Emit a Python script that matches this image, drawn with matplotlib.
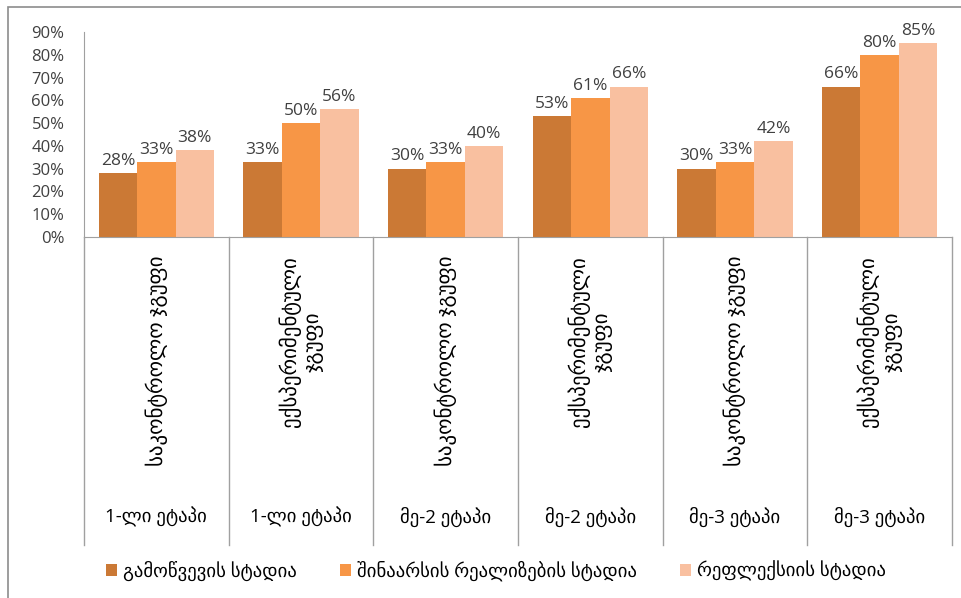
import matplotlib.pyplot as plt
import matplotlib.transforms as mtransforms
from matplotlib.patches import Rectangle
import numpy as np

plt.rcParams['font.family'] = ['Open Sans', 'DejaVu Sans']

# მონაცემები
groups = ["საკონტროლო ჯგუფი", "ექსპერიმენტული\nჯგუფი",
          "საკონტროლო ჯგუფი", "ექსპერიმენტული\nჯგუფი",
          "საკონტროლო ჯგუფი", "ექსპერიმენტული\nჯგუფი"]
stages = ["1-ლი ეტაპი", "1-ლი ეტაპი", "მე-2 ეტაპი", "მე-2 ეტაპი",
          "მე-3 ეტაპი", "მე-3 ეტაპი"]
series_names = ["გამოწვევის სტადია", "შინაარსის რეალიზების სტადია",
                "რეფლექსიის სტადია"]
challenge = [0.28, 0.33, 0.30, 0.53, 0.30, 0.66]
realization = [0.33, 0.50, 0.33, 0.61, 0.33, 0.80]
reflection = [0.38, 0.56, 0.40, 0.66, 0.42, 0.85]
colors = ["#CB7935", "#F79646", "#F9C0A0"]

W, H = 961, 598
fig = plt.figure(figsize=(W / 100, H / 100), dpi=100)
ax = fig.add_axes([84 / W, 1 - 237 / H, (952 - 84) / W, 205 / H])

x = np.arange(len(groups))
bw = 0.266
for i, vals in enumerate([challenge, realization, reflection]):
    bars = ax.bar(x + (i - 1) * bw, vals, width=bw, color=colors[i],
                  label=series_names[i], linewidth=0)
    for b, v in zip(bars, vals):
        ax.annotate(f"{round(v * 100)}%", (b.get_x() + b.get_width() / 2, v),
                    xytext=(0, 3), textcoords="offset points",
                    ha="center", va="bottom", fontsize=12.5, color="#404040")

ax.set_xlim(-0.5, len(groups) - 0.5)
ax.set_ylim(0, 0.9)
ax.set_yticks(np.arange(0, 0.91, 0.1))
ax.set_yticklabels([f"{t}%" for t in range(0, 91, 10)], fontsize=12,
                   color="#404040")
ax.tick_params(axis="y", length=0, pad=14)
ax.set_xticks([])
for s in ["top", "right"]:
    ax.spines[s].set_visible(False)
for s in ["left", "bottom"]:
    ax.spines[s].set_color("#A0A0A0")

# კატეგორიების ზონა
tr = mtransforms.blended_transform_factory(ax.transData, fig.transFigure)
for sep in np.arange(-0.5, len(groups), 1.0):
    ax.plot([sep, sep], [1 - 237 / H, 1 - 545 / H], transform=tr,
            color="#A0A0A0", lw=1, clip_on=False)
for xi, g, st in zip(x, groups, stages):
    ax.text(xi, 1 - 256 / H, g, transform=tr, rotation=90, ha="center",
            va="top", multialignment="center", fontsize=15, color="black",
            linespacing=1.15)
    ax.text(xi, 1 - 517 / H, st, transform=tr, ha="center", va="center",
            fontsize=13.5, color="black")

# ჩარჩო
fig.patches.append(Rectangle((8 / W, -0.05), 1.05, 1 - 7 / H + 0.05,
                             transform=fig.transFigure, fill=False,
                             edgecolor="#8C8C8C", lw=1.2))

fig.legend(loc="center", bbox_to_anchor=(496 / W, 1 - 571 / H), ncol=3,
           frameon=False, fontsize=13.5, handlelength=0.6, handleheight=0.6,
           handletextpad=0.3, columnspacing=2.3)

fig.savefig("out.png", dpi=100)
